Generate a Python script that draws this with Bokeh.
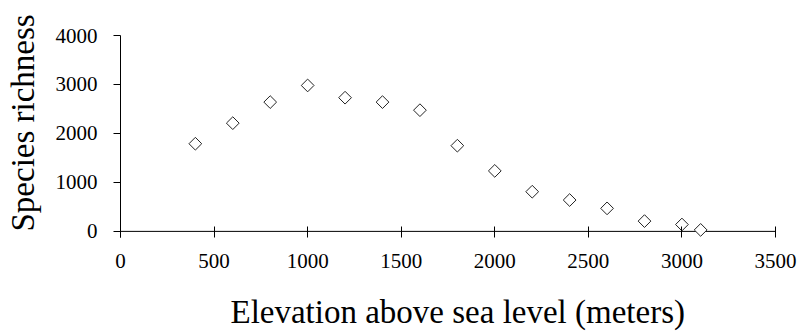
import math
from bokeh.plotting import figure
from bokeh.models import Range1d, FixedTicker, Title, Span, ColumnDataSource
from bokeh.embed import file_html
from bokeh.resources import INLINE

# Data
elevation = [400, 600, 800, 1000, 1200, 1400, 1600, 1800, 2000, 2200, 2400, 2600, 2800, 3000, 3100]
richness = [1790, 2210, 2640, 2980, 2730, 2640, 2475, 1750, 1235, 810, 640, 470, 210, 140, 30]
x_ticks = [0, 500, 1000, 1500, 2000, 2500, 3000, 3500]
y_ticks = [0, 1000, 2000, 3000, 4000]
x_label = "Elevation above sea level (meters)"
y_label = "Species richness"

FONT = "Liberation Serif"
QFONT = "'Liberation Serif'"

src = ColumnDataSource(data=dict(x=elevation, y=richness))

# y range starts slightly below zero so markers touching y = 0 are not clipped;
# the zero line is drawn as a span and the x-axis ticks reach up across it.
p = figure(frame_width=655, frame_height=202, output_backend="svg", toolbar_location=None,
           x_range=Range1d(0, 3500), y_range=Range1d(-125, 4000),
           min_border_left=120, min_border_right=22, min_border_top=35, min_border_bottom=96)
p.outline_line_color = None
p.grid.visible = False
p.background_fill_color = "white"
p.border_fill_color = "white"

zero_line = Span(location=0, dimension="width", line_color="black", line_width=1, level="underlay")
p.add_layout(zero_line)

p.scatter("x", "y", source=src, marker="square", size=9, angle=math.pi / 4,
          fill_color="white", line_color="#222222", line_width=1)

xa = p.xaxis[0]
xa.ticker = FixedTicker(ticks=x_ticks)
xa.major_tick_in = 11
xa.major_tick_out = 0
xa.minor_tick_in = 0
xa.minor_tick_out = 0
xa.major_label_standoff = 16
xa.major_label_text_font = QFONT
xa.major_label_text_font_size = "21px"
xa.major_label_text_color = "black"
xa.axis_line_color = None
xa.major_tick_line_color = "black"
xa.axis_label = " "
xa.axis_label_text_font_size = "1px"
xa.axis_label_standoff = 17

ya = p.yaxis[0]
ya.ticker = FixedTicker(ticks=y_ticks)
ya.major_tick_in = 0
ya.major_tick_out = 7
ya.minor_tick_in = 0
ya.minor_tick_out = 0
ya.major_label_standoff = 16
ya.major_label_text_font = QFONT
ya.major_label_text_font_size = "21px"
ya.major_label_text_color = "black"
ya.axis_line_color = "black"
ya.major_tick_line_color = "black"
ya.axis_label = " "
ya.axis_label_text_font_size = "1px"
ya.axis_label_standoff = 8

xt = Title(text=x_label, align="left", offset=110, vertical_align="bottom",
           text_font=FONT, text_font_size="33px", text_font_style="normal",
           text_color="black", standoff=0)
p.add_layout(xt, "below")
yt = Title(text=y_label, align="left", offset=6, vertical_align="bottom",
           text_font=FONT, text_font_size="33px", text_font_style="normal",
           text_color="black", standoff=0)
p.add_layout(yt, "left")

open("out.html", "w").write(file_html(p, INLINE))
